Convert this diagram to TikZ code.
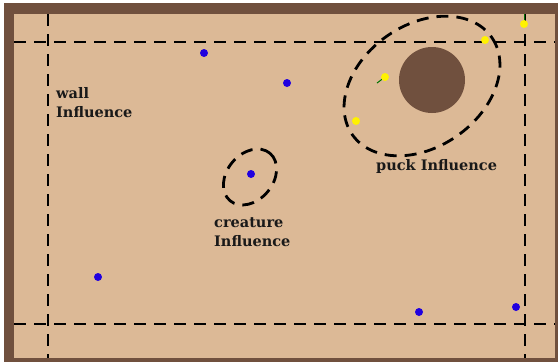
\documentclass[tikz,border=0pt]{standalone}
\usepackage{fontspec}
\setmainfont{DejaVu Serif}
\begin{document}
\begin{tikzpicture}[x=1pt,y=-1pt,
  infl/.style={draw=black,line width=2.8pt,dash pattern=on 12pt off 8pt},
  creature/.style={circle,fill=blue!75!violet,inner sep=0pt,minimum size=8pt},
  team/.style={circle,fill=yellow,inner sep=0pt,minimum size=8pt},
  heading/.style={line width=1pt,draw=green!45!black},
  lbl/.style={font=\bfseries\fontsize{14.5}{18.5}\selectfont,text=black!90,align=left,inner sep=0pt}]
\definecolor{rink}{RGB}{220,185,150}
\definecolor{wallc}{RGB}{112,80,62}
\useasboundingbox (0,0) rectangle (558,362);
% arena: outer wall and playing surface
\fill[white] (0,0) rectangle (558,362);
\fill[wallc] (4,3) rectangle (558,362);
\fill[rink] (14,14) rectangle (555,358);
% wall influence bands
\draw[infl] (14,42) -- (555,42);
\draw[infl] (14,324) -- (555,324);
\draw[infl] (48,14) -- (48,358);
\draw[infl] (525,14) -- (525,358);
% puck and its influence region
\fill[wallc] (432,80) circle (33);
\draw[infl] (422,86) ellipse[x radius=85,y radius=61,rotate=35];
% creature influence region
\draw[infl] (250,177) ellipse[x radius=31,y radius=23,rotate=50];
% creatures
\node[creature] (c1) at (204,53) {};
\node[creature] (c2) at (287,83) {};
\node[creature] (c3) at (251,174) {};
\node[creature] (c4) at (98,277) {};
\node[creature] (c5) at (419,312) {};
\node[creature] (c6) at (516,307) {};
% opposing team with heading marks
\coordinate (h1) at (377,83);
\coordinate (h2) at (524,14);
\draw[heading] (385,77) -- (h1);
\draw[heading] (524,24) -- (h2);
\node[team] (y1) at (385,77) {};
\node[team] (y2) at (485,40) {};
\node[team] (y3) at (524,24) {};
\node[team] (y4) at (356,121) {};
% labels (base anchor sits on the last line)
\node[lbl,anchor=base west] (wl) at (56,117) {wall\\Influence};
\node[lbl,anchor=base west] (pl) at (376,170) {puck Influence};
\node[lbl,anchor=base west] (cl) at (214,246) {creature\\Influence};
\end{tikzpicture}
\end{document}
